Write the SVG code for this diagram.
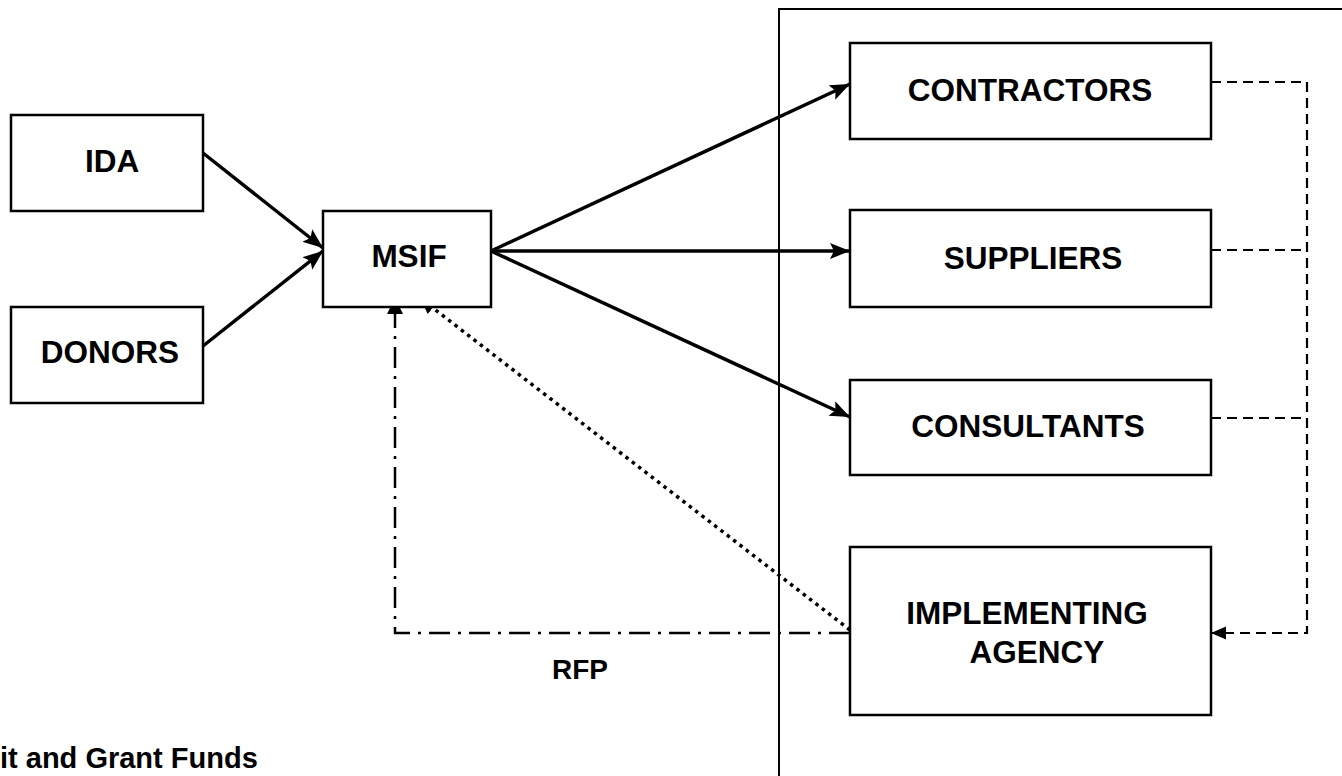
<svg xmlns="http://www.w3.org/2000/svg" width="1342" height="776" viewBox="0 0 1342 776">
<style>
.box{fill:#fff;stroke:#000;stroke-width:2.5}
.lbl{font-family:"Liberation Sans",Arial,sans-serif;font-weight:bold;font-size:31.5px;fill:#000;text-anchor:middle}
.solid{stroke:#000;stroke-width:3.5;fill:none}
.dash{stroke:#000;stroke-width:2.2;fill:none;stroke-dasharray:10 6}
.dot{stroke:#000;stroke-width:3.5;fill:none;stroke-dasharray:3.5 4.5}
.dashdot{stroke:#000;stroke-width:2.5;fill:none;stroke-dasharray:21 8 3 8}
</style>
<defs>
<marker id="big" markerUnits="userSpaceOnUse" markerWidth="22" markerHeight="18" refX="20" refY="8" orient="auto"><path d="M0,0 L20,8 L0,16 L4,8 Z" fill="#000"/></marker>
<marker id="mid" markerUnits="userSpaceOnUse" markerWidth="18" markerHeight="18" refX="16" refY="8" orient="auto"><path d="M0,0 L16,8 L0,16 Z" fill="#000"/></marker>
<marker id="sm" markerUnits="userSpaceOnUse" markerWidth="16" markerHeight="14" refX="15" refY="6.5" orient="auto"><path d="M0,0 L15,6.5 L0,13 Z" fill="#000"/></marker>
</defs>
<rect x="779" y="9" width="600" height="800" fill="none" stroke="#000" stroke-width="2"/>
<g id="connectors">
<line class="solid" x1="203" y1="153" x2="323" y2="248" marker-end="url(#big)"/>
<line class="solid" x1="203" y1="346" x2="323" y2="251" marker-end="url(#big)"/>
<line class="solid" x1="491" y1="251" x2="850" y2="84" marker-end="url(#big)"/>
<line class="solid" x1="491" y1="251" x2="850" y2="251" marker-end="url(#big)"/>
<line class="solid" x1="491" y1="251" x2="850" y2="417" marker-end="url(#big)"/>
<polyline class="dashdot" points="850,633 395,633 395,298" marker-end="url(#mid)"/>
<line class="dot" x1="850" y1="630" x2="420" y2="298" marker-end="url(#mid)"/>
<polyline class="dash" points="1211,82 1307,82 1307,633 1211,633" marker-end="url(#sm)"/>
<line class="dash" x1="1211" y1="250" x2="1307" y2="250"/>
<line class="dash" x1="1211" y1="418" x2="1307" y2="418"/>
</g>
<g id="ida"><rect class="box" x="11" y="115" width="192" height="96"/><text class="lbl" x="112" y="172">IDA</text></g>
<g id="donors"><rect class="box" x="11" y="307" width="192" height="96"/><text class="lbl" x="110" y="363">DONORS</text></g>
<g id="msif"><rect class="box" x="323" y="211" width="168" height="96"/><text class="lbl" x="409" y="267">MSIF</text></g>
<g id="contractors"><rect class="box" x="850" y="43" width="361" height="96"/><text class="lbl" x="1030" y="101">CONTRACTORS</text></g>
<g id="suppliers"><rect class="box" x="850" y="210" width="361" height="97"/><text class="lbl" x="1033" y="269">SUPPLIERS</text></g>
<g id="consultants"><rect class="box" x="850" y="380" width="361" height="95"/><text class="lbl" x="1028" y="437">CONSULTANTS</text></g>
<g id="agency"><rect class="box" x="850" y="547" width="361" height="168"/><text class="lbl" x="1027" y="624">IMPLEMENTING</text><text class="lbl" x="1037" y="663">AGENCY</text></g>
<text class="lbl" x="580" y="679" style="font-size:28px">RFP</text>
<text x="0" y="768" font-family="Liberation Sans,Arial,sans-serif" font-weight="bold" font-size="29">it and Grant Funds</text>
</svg>
